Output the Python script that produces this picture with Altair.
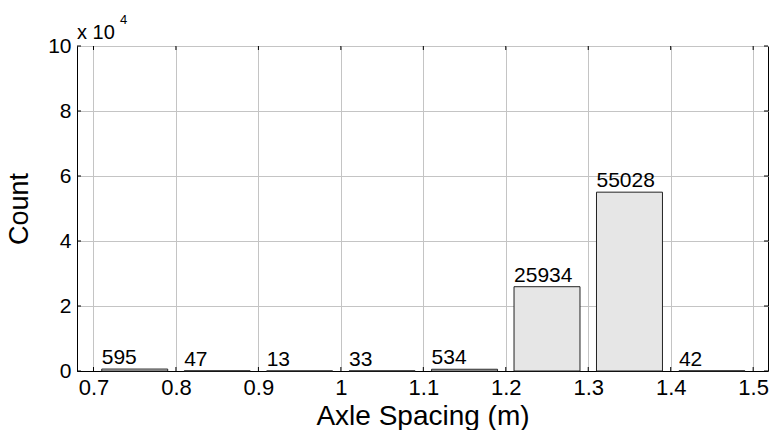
import altair as alt
import pandas as pd

# Histogram of axle spacing: bin centres (m) and counts per bin
bin_centers = [0.75, 0.85, 0.95, 1.05, 1.15, 1.25, 1.35, 1.45]
counts = [595, 47, 13, 33, 534, 25934, 55028, 42]
x_ticks = [0.7, 0.8, 0.9, 1.0, 1.1, 1.2, 1.3, 1.4, 1.5]
y_ticks = [0, 2, 4, 6, 8, 10]
scale_factor = 10000  # y axis is shown in units of 10^4

W, H = 691, 325
HALF_BAR = 0.04
FONT = "Liberation Sans"

bars_df = pd.DataFrame({"center": bin_centers, "count": counts})
xt_df = pd.DataFrame({"v": x_ticks})
yt_df = pd.DataFrame({"v": y_ticks})

x_scale = alt.Scale(domain=[0.68, 1.518], nice=False, zero=False)
y_scale = alt.Scale(domain=[0, 10], nice=False)

base = alt.Chart(bars_df).transform_calculate(
    x0=f"datum.center - {HALF_BAR}",
    x1=f"datum.center + {HALF_BAR}",
    y=f"datum.count / {scale_factor}",
)

bars = base.mark_bar(fill="#e6e6e6", stroke="#222222", strokeWidth=1).encode(
    x=alt.X(
        "x0:Q",
        scale=x_scale,
        axis=alt.Axis(
            values=x_ticks,
            format=".1~f",
            title="Axle Spacing (m)",
            grid=True,
            ticks=False,
            labelFontSize=22,
            labelPadding=6,
            titleFontSize=28,
            titlePadding=4,
        ),
    ),
    x2="x1:Q",
    y=alt.Y(
        "y:Q",
        scale=y_scale,
        axis=alt.Axis(
            values=y_ticks,
            title="Count",
            grid=True,
            ticks=False,
            labelFontSize=21,
            labelPadding=6,
            titleFontSize=27,
            titlePadding=14,
        ),
    ),
    y2=alt.datum(0),
)

labels = base.mark_text(
    align="left", baseline="bottom", dy=-1, fontSize=21, font=FONT, color="black"
).encode(
    x=alt.X("x0:Q", scale=x_scale),
    y=alt.Y("y:Q", scale=y_scale),
    text=alt.Text("count:Q", format="d"),
)

# inward tick marks on all four sides
tick_style = dict(color="black", strokeWidth=1)
xt_bottom = alt.Chart(xt_df).mark_rule(**tick_style).encode(
    x=alt.X("v:Q", scale=x_scale), y=alt.value(H), y2=alt.value(H - 4)
)
xt_top = alt.Chart(xt_df).mark_rule(**tick_style).encode(
    x=alt.X("v:Q", scale=x_scale), y=alt.value(0), y2=alt.value(4)
)
yt_left = alt.Chart(yt_df).mark_rule(**tick_style).encode(
    y=alt.Y("v:Q", scale=y_scale), x=alt.value(0), x2=alt.value(4)
)
yt_right = alt.Chart(yt_df).mark_rule(**tick_style).encode(
    y=alt.Y("v:Q", scale=y_scale), x=alt.value(W), x2=alt.value(W - 4)
)

# exponent note above the y axis
exp_main = alt.Chart(pd.DataFrame({"t": ["x 10"]})).mark_text(
    align="left", baseline="alphabetic", fontSize=20, font=FONT, color="black"
).encode(x=alt.value(0), y=alt.value(-7), text="t:N")
exp_sup = alt.Chart(pd.DataFrame({"t": ["4"]})).mark_text(
    align="left", baseline="alphabetic", fontSize=13, font=FONT, color="black"
).encode(x=alt.value(43), y=alt.value(-22), text="t:N")

chart = (
    alt.layer(bars, labels, xt_bottom, xt_top, yt_left, yt_right, exp_main, exp_sup)
    .properties(
        width=W,
        height=H,
        autosize=alt.AutoSizeParams(type="none"),
        padding={"left": 77, "top": 46, "right": 3, "bottom": 59},
        background="white",
    )
    .configure_view(stroke="black", strokeWidth=1)
    .configure_axis(
        domainColor="black",
        domainWidth=1,
        gridColor="#c4c4c4",
        gridWidth=1,
        labelFont=FONT,
        labelColor="black",
        titleFont=FONT,
        titleFontWeight="normal",
        titleColor="black",
    )
)

chart.save("out.html", embed_options={"renderer": "svg", "actions": False})
